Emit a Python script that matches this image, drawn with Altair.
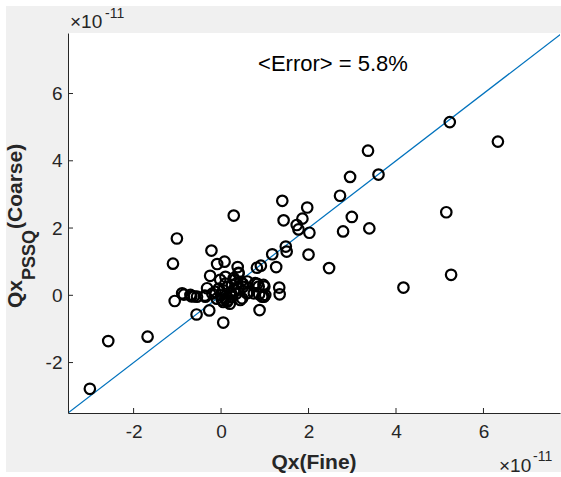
import altair as alt
import pandas as pd

# Values in units of 1e-11
fine = [-3.00, -2.58, -1.68, 5.23, 6.33, 3.36, 2.95, 3.60, 2.72, 1.40,
        1.97, 0.29, 5.15, 2.99, 1.43, 1.86, 1.73, 1.77, 2.02, 2.79,
        3.39, -1.01, 1.48, 1.50, 2.00, -0.22, -1.10, 1.17, 2.47, -0.09,
        0.08, 0.38, 0.82, 0.91, 1.26, 0.40, 4.17, 5.26, -0.25, 1.33,
        1.34, -1.06, -0.85, -0.68, -0.62, -0.56, -0.27, 0.05, 0.88, 0.44,
        0.98, 0.87, 0.99, 0.83, 0.60, 0.62, -0.32, -0.37, -0.02, 0.10,
        0.40, 0.78, 0.97, 0.86, -0.89, -0.70, -0.55, -0.36, 0.48, 0.59,
        0.75, 0.94, 1.01, -0.13, -0.05, 0.00, 0.05, 0.10, 0.15, 0.20,
        0.25, 0.30, 0.35, 0.40, 0.45, 0.05, 0.15, -0.10, 0.25, 0.10,
        -0.20, 0.30, 0.50, 0.20, 0.35, 0.29, 0.50, 0.02, 0.14, 0.23]
coarse = [-2.78, -1.36, -1.23, 5.15, 4.57, 4.30, 3.52, 3.59, 2.96, 2.81,
          2.61, 2.37, 2.47, 2.33, 2.23, 2.28, 2.09, 1.96, 1.86, 1.90,
          1.99, 1.69, 1.45, 1.30, 1.21, 1.33, 0.94, 1.22, 0.81, 0.93,
          1.00, 0.84, 0.82, 0.88, 0.84, 0.67, 0.23, 0.61, 0.58, 0.23,
          0.03, -0.17, 0.02, -0.03, -0.03, -0.57, -0.45, -0.81, -0.44, -0.14,
          -0.04, 0.03, 0.26, 0.34, 0.41, 0.08, 0.21, -0.01, 0.46, 0.55,
          0.65, 0.36, 0.31, 0.26, 0.06, 0.01, -0.04, -0.04, -0.09, 0.06,
          0.06, -0.04, 0.01, 0.10, 0.20, 0.00, 0.15, -0.10, 0.25, 0.05,
          0.30, 0.15, 0.35, 0.20, 0.40, -0.20, -0.15, -0.10, -0.05, 0.35,
          0.05, 0.45, 0.25, -0.25, 0.05, 0.51, 0.34, -0.14, -0.19, 0.06]
diag = [-3.5, 7.8]
ticks = [-2, 0, 2, 4, 6]

W, H = 492, 380
XD = [-3.5, 7.75]
YD = [-3.5, 7.8]
AX = "#262626"
FONT = "Liberation Sans"

pts = pd.DataFrame({"x": fine, "y": coarse})
line_df = pd.DataFrame({"x": diag, "y": diag})
tick_df = pd.DataFrame({"t": ticks})

xs = alt.Scale(domain=XD, nice=False, zero=False)
ys = alt.Scale(domain=YD, nice=False, zero=False)

xaxis = alt.Axis(values=ticks, title=None, grid=False, ticks=False, domainColor=AX,
                 domainWidth=1, labelColor=AX, labelFont=FONT, labelFontSize=19,
                 labelPadding=9, labelExpr="toString(datum.value)", zindex=1)
yaxis = alt.Axis(values=ticks, title=None, grid=False, ticks=False, domainColor=AX,
                 domainWidth=1, labelColor=AX, labelFont=FONT, labelFontSize=19,
                 labelPadding=6, labelExpr="toString(datum.value)", zindex=1)

one = pd.DataFrame({"a": [0]})

bg = alt.Chart(one).mark_rect(color="#f0f0f0", clip=False).encode(
    x=alt.value(-62), x2=alt.value(W + 5), y=alt.value(-27), y2=alt.value(H + 59))
plotbg = alt.Chart(one).mark_rect(color="white").encode(
    x=alt.value(0), x2=alt.value(W + 5), y=alt.value(0), y2=alt.value(H))

points = alt.Chart(pts).mark_point(shape="circle", filled=False, color="black",
                                   strokeWidth=2.2, size=110, opacity=1).encode(
    x=alt.X("x:Q", scale=xs, axis=xaxis),
    y=alt.Y("y:Q", scale=ys, axis=yaxis))

diag_line = alt.Chart(line_df).mark_line(color="#0072BD", strokeWidth=1.2, clip=True).encode(
    x=alt.X("x:Q", scale=xs), y=alt.Y("y:Q", scale=ys))

xt = alt.Chart(tick_df).mark_rule(color=AX, strokeWidth=1).encode(
    x=alt.X("t:Q", scale=xs), y=alt.value(H), y2=alt.value(H - 5))
yt = alt.Chart(tick_df).mark_rule(color=AX, strokeWidth=1).encode(
    y=alt.Y("t:Q", scale=ys), x=alt.value(0), x2=alt.value(5))


def txt(s, x, y, size, bold=False, align="left", angle=0, color=AX):
    kw = dict(text=s, font=FONT, fontSize=size, align=align, baseline="alphabetic",
              color=color)
    if bold:
        kw["fontWeight"] = "bold"
    if angle:
        kw["angle"] = angle
    return alt.Chart(one).mark_text(**kw).encode(x=alt.value(x), y=alt.value(y))


err = txt("<Error> = 5.8%", 265, 38, 22, align="center", color="black")
xtitle = txt("Qx(Fine)", 246, 436, 21, bold=True, align="center")
ex_x1 = txt("×10", 431, 439, 19)
ex_x2 = txt("-11", 465, 428, 14)
ey_x1 = txt("×10", 2, -5, 19)
ey_x2 = txt("-11", 37, -15, 14)
yt1 = txt("Qx", -46, 275, 21, bold=True, angle=270)
yt2 = txt("PSSQ", -33, 247, 18, bold=True, angle=270)
yt3 = txt("(Coarse)", -46, 196, 21, bold=True, angle=270)

chart = alt.layer(bg, plotbg, diag_line, points, xt, yt, err, xtitle,
                  ex_x1, ex_x2, ey_x1, ey_x2, yt1, yt2, yt3).properties(
    width=W, height=H,
    autosize=alt.AutoSizeParams(type="none"),
    padding={"left": 68, "top": 33, "right": 1, "bottom": 64},
    background="white",
).configure_view(stroke=None)

chart.save("out.html", embed_options={"renderer": "svg", "actions": False})
